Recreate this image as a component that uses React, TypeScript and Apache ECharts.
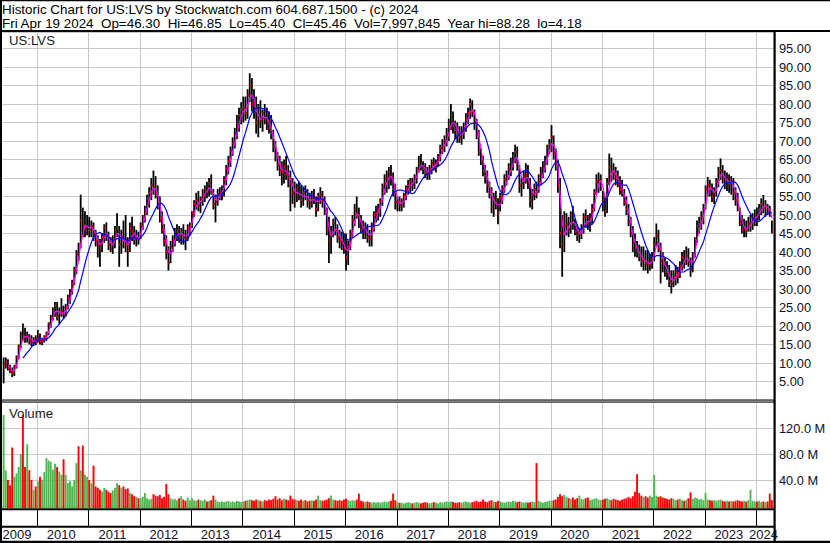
import React, { useEffect, useRef } from "react";
import * as echarts from "echarts";

// ---- time base: semi-monthly periods starting May 2009 ----
const START_YEAR = 2009.33;
const PERIODS_PER_YEAR = 24;

// ---- price data (US:LVS), one row per calendar year ----
const closes = [
  9.5, 10.2, 8.8, 7.8, 7.2, 9, 11.5, 14.5, 17.5, 17.2, 17, 17.3, 16, 15.5, 16.2, 15.8,
  17.5, 15.8, 16, 17, 18, 20.5, 22, 24, 25.5, 22.5, 23.5, 24, 23, 25, 27.5, 29, 31.5, 35, 39.5, 38.5, 48.5, 46.5, 47, 47,
  46, 47, 45, 43, 42, 41, 44, 46.5, 44.5, 42, 41, 42.5, 46, 46.5, 42, 44, 43, 42, 40.5, 46.5, 45.5, 43.5, 44, 43.5,
  47, 49.5, 51.5, 54.5, 56, 58, 57.5, 56, 53, 49, 46, 43, 40, 37, 41.5, 43, 45, 45.5, 44, 45.5, 44, 43.5, 46.5, 47,
  50.5, 53, 54, 52.5, 54.5, 55.5, 57, 56.5, 58.5, 56, 53, 53.5, 55.5, 56, 56.5, 59.5, 62.5, 64.5, 67.5, 69.5, 72, 74.5, 77, 78.5,
  79, 77.5, 82.5, 85, 80, 79.5, 75, 77, 75.5, 77.5, 76, 75.5, 73.5, 72, 68.5, 66, 63.5, 62, 61.5, 63, 61, 60, 58.5, 56,
  55, 57, 55.5, 54, 56, 55, 54, 53, 55, 54.5, 51.5, 55, 55.5, 54, 51, 46, 43, 44.5, 48, 46, 44, 43, 42.5, 41,
  38.5, 41.5, 45, 48.5, 51.5, 50.5, 48, 46, 45.5, 46.5, 44, 43.5, 46.5, 50, 50.5, 51.5, 53.5, 57.5, 58.5, 60, 61.5, 60, 57, 53.5,
  53.5, 52.5, 53.5, 55, 57, 58, 59, 58.5, 60, 62.5, 64, 63.5, 62.5, 61.5, 61, 62.5, 64, 63, 64, 65.5, 68, 68.5, 70, 71.5,
  74, 77, 74, 73, 72, 71, 72.5, 73.5, 76, 77.5, 80, 78, 75, 72, 67, 65, 62, 60.5, 58, 56, 52, 54.5, 53, 50.5,
  54.5, 57, 59.5, 60, 62.5, 63, 66, 67, 64, 58, 58.5, 60.5, 61, 59, 54, 55.5, 57, 55.8, 59, 61.5, 62.5, 64.5, 68, 69,
  71, 67, 64, 58, 45, 42, 47, 47.5, 46, 50, 48, 45.5, 44.5, 45, 46, 49.5, 48, 47.5, 49, 51.5, 56, 59, 59.5, 59.5,
  54, 51, 58.5, 63, 62, 61, 60, 58.5, 57, 56, 53.5, 51.5, 48, 45, 42, 41, 40, 39, 37.5, 38, 37, 36.5, 37, 38.5,
  42, 44.5, 41, 37.5, 37, 35, 34.5, 32, 31.5, 33.5, 34.5, 33.5, 36, 38.5, 37.5, 39, 37.5, 35.5, 39, 43.5, 47, 47.5, 49.5, 51.5,
  57, 58, 57.5, 55, 56, 59, 61.5, 62, 60, 58.5, 59.5, 58.5, 59, 56, 54, 52, 48, 46, 46.5, 46, 47.5, 48, 49, 50,
  49.5, 51.5, 53, 52, 52.5, 51.5, 50.5, 45.5,
];

const highs = [
  11.5, 11.5, 11, 9.5, 8.8, 9.5, 12, 15, 18.5, 20.7, 19.5, 18.5, 17.8, 17.5, 17, 17.5,
  18.9, 18, 16.8, 17.5, 18.5, 21, 23, 25, 26.5, 26.5, 25, 27.5, 25.5, 26, 28.5, 30, 32.5, 36, 40.5, 42.5, 55.5, 52, 51, 50,
  49.5, 48.5, 48, 46, 44.5, 43.5, 45, 47.5, 48, 45.5, 44, 44.5, 47, 50.5, 47, 46, 48.5, 50, 44, 48, 49.5, 47, 46, 45.5,
  48, 50, 52.5, 55.5, 57.5, 60, 62, 60.5, 58, 55, 51, 47.5, 44.5, 41.5, 43, 44.5, 46.5, 47.5, 47, 46.5, 47.5, 46, 47.5, 48,
  51, 54, 56, 56.5, 55, 57, 58, 59, 60, 61, 57, 55.5, 57, 57.5, 58, 60.5, 63.5, 66, 68.5, 71, 73.5, 77, 79, 80.5,
  82, 82, 84, 88.3, 87, 84, 82, 80, 81, 78.5, 80, 79, 78, 77, 73, 70, 67, 66, 64.5, 65, 66, 63.5, 62, 60,
  59, 58.5, 59, 58, 57.5, 58, 57, 56, 56.5, 57, 55, 56, 57.5, 56.5, 55, 52, 49.5, 47, 49, 49.5, 47.5, 46, 45.5, 45,
  45, 43, 46, 50, 53, 55, 52, 50, 48.5, 48, 47.5, 46, 48, 51, 52.5, 53, 54.5, 58.5, 61, 62, 63, 63.5, 61.5, 58.5,
  55, 55, 54.5, 56, 58, 59.5, 60, 60, 61, 63, 66, 66.5, 64.5, 64, 63, 63.5, 65, 65.5, 65, 66.5, 69, 70.5, 71.5, 73.5,
  76, 80, 78, 75.5, 75, 74, 74, 75, 77.5, 79, 81.5, 81, 78.5, 76, 73, 68, 66, 63.5, 62, 59, 57.5, 56, 56.5, 54.5,
  56, 58, 61, 62, 64, 65.5, 67, 69, 68.5, 63.5, 60, 62, 64, 63.5, 60, 57, 58.5, 59, 61, 63, 64.5, 66, 69, 70.5,
  74.3, 71.5, 68, 65, 60, 50, 51, 50.5, 49.5, 51, 52.5, 49, 47.5, 46.5, 47.5, 50.5, 51.5, 50, 50.5, 53, 57, 61, 61.5, 61,
  56.5, 55, 60, 66.6, 65.5, 64, 63, 62, 60.5, 59.5, 57, 55, 53, 49.5, 47, 45, 43, 42, 41.5, 41.5, 40.5, 40.5, 39.5, 40,
  44, 47.7, 46, 42.5, 40, 38.5, 37.5, 36.5, 35, 35, 36.5, 36, 37.5, 40, 40.5, 41.5, 41, 38.5, 40, 44, 48.5, 49.5, 51, 53,
  58, 60.3, 59.5, 58.5, 57.5, 60, 63, 65.3, 63.5, 62, 61.5, 61, 60.5, 60, 57.5, 56, 52, 50, 49, 48.5, 49.5, 50, 50.5, 51.5,
  52, 53, 54.5, 55.4, 54, 53, 52.5, 48.5,
];

const lows = [
  4.5, 8.5, 8, 7.2, 6.2, 6.5, 8.5, 11, 14, 16, 15.5, 15.5, 15, 14.5, 14.6, 14.8,
  15.5, 15, 14.8, 15.5, 16, 17.5, 19.5, 21.5, 22.5, 21.5, 20.5, 22.5, 22, 22.5, 24.5, 26, 28.5, 31, 34, 37.5, 41, 44, 44, 44.5,
  44, 44, 43, 41.5, 38.5, 36, 40, 42.5, 43, 40.5, 40, 39.5, 41, 44, 36, 39.5, 41, 40, 36, 40, 43, 42, 41.5, 42,
  43.5, 46, 48, 50, 52, 54, 55.5, 54.5, 51.5, 48, 45, 41.5, 38, 35, 37, 40, 41.5, 43, 42.5, 42, 42, 40.5, 43, 44.5,
  46.5, 49.5, 51.5, 51, 50.5, 52.5, 53.5, 54.5, 55, 55.5, 51.5, 48, 52.5, 54, 54, 55, 58, 61, 63, 66, 68, 70.5, 72.5, 74.5,
  75, 75.5, 76, 80.5, 78, 76, 72, 71, 73.5, 72.5, 74.5, 73, 72, 70.5, 67, 64.5, 62, 60.5, 58, 58.5, 59.5, 57.5, 51, 53,
  52, 53.5, 54, 52, 52.5, 54, 52, 51.5, 52, 53, 49.5, 51, 53, 52, 50, 44.5, 37, 39.5, 44, 44.5, 42.5, 41, 40.5, 39.5,
  35, 36.5, 40.5, 44, 47, 49, 46.5, 45, 43.5, 43.5, 42.5, 41.5, 41.5, 45.5, 48, 48.5, 49.5, 52.5, 55.5, 56, 57, 58, 55, 51.5,
  51, 51, 51, 52, 54, 55.5, 56, 56.5, 57, 58.5, 61.5, 62, 61, 60, 59.5, 59.5, 61, 62, 61.5, 63, 64.5, 66.5, 67, 68.5,
  70, 73, 72, 70.5, 69.5, 69.5, 69, 70.5, 72.5, 74.5, 76, 76.5, 73, 70.5, 66, 63.5, 60.5, 58.5, 56, 54.5, 50.5, 49.5, 51.5, 47.5,
  51, 53, 56, 58, 59.5, 60.5, 62, 64, 62, 56, 55, 57, 58.5, 57, 52, 51.5, 54, 54.5, 56, 58, 60, 61.5, 63.5, 66.5,
  67, 65, 62, 56, 41, 33.3, 40, 44.5, 44, 45, 46, 44.5, 43, 42.5, 43.5, 45, 46.5, 46, 45.5, 47.5, 51, 55.5, 56, 56.5,
  51, 49.5, 50.5, 58, 59, 59.5, 58, 57.5, 55.5, 55, 52.5, 50, 47, 44, 40, 38.7, 38.5, 37.5, 36, 35, 35, 34.2, 35, 35.5,
  37.5, 41.5, 40, 31.5, 34.5, 33.3, 32.5, 30.5, 28.8, 30.5, 31, 31.5, 33, 35, 35.5, 36.5, 36, 33.3, 34.5, 38.5, 42.5, 45, 46, 47.5,
  51.5, 55, 55, 53.5, 53, 55, 57.5, 59.5, 58.5, 57, 56.5, 56, 55.5, 54, 52.5, 51, 47, 45, 44, 44, 45.5, 45.5, 46, 47,
  47, 48.5, 50, 50.5, 49.5, 50, 49.5, 45,
];

// volume in millions of shares
const volumes = [
  140, 55, 40, 32, 90, 45, 50, 60, 80, 140, 60, 95, 55, 40, 25, 30,
  38, 45, 40, 52, 74, 70, 68, 56, 65, 60, 53, 48, 72, 48, 35, 38, 30, 40, 66, 92, 55, 93, 48, 45,
  40, 35, 62, 30, 28, 25, 22, 28, 25, 22, 20, 24, 28, 35, 32, 28, 30, 26, 27, 20, 18, 15, 14, 12,
  12, 14, 20, 12, 10, 11, 18, 16, 15, 17, 12, 14, 34, 18, 12, 10, 11, 9, 12, 15, 10, 8, 13, 9,
  12, 9, 8, 10, 9, 8, 10, 7, 8, 9, 16, 10, 7, 6, 7, 6, 7, 8, 6, 7, 6, 8, 7, 6,
  7, 8, 9, 10, 9, 8, 10, 9, 8, 7, 9, 8, 10, 9, 11, 15, 10, 12, 9, 11, 10, 9, 16, 11,
  10, 9, 8, 10, 8, 9, 7, 8, 9, 8, 10, 16, 9, 8, 9, 10, 12, 16, 10, 9, 8, 9, 8, 10,
  11, 9, 8, 9, 8, 10, 19, 8, 7, 6, 7, 6, 5, 6, 5, 6, 5, 6, 7, 6, 7, 8, 19, 9,
  6, 5, 5, 4, 5, 6, 5, 4, 5, 6, 5, 4, 5, 6, 5, 4, 5, 6, 5, 4, 6, 5, 6, 7,
  6, 7, 6, 5, 5, 6, 5, 6, 7, 6, 5, 6, 7, 8, 6, 7, 10, 7, 6, 8, 9, 7, 6, 8,
  7, 6, 5, 6, 7, 6, 8, 7, 6, 7, 6, 5, 6, 5, 6, 7, 6, 66, 8, 6, 5, 6, 7, 8,
  8, 9, 10, 14, 18, 15, 17, 14, 12, 11, 13, 10, 12, 16, 11, 10, 12, 13, 9, 10, 11, 12, 10, 9,
  10, 11, 12, 10, 9, 11, 10, 9, 8, 10, 11, 12, 14, 12, 15, 22, 49, 20, 16, 14, 15, 13, 16, 14,
  48, 16, 14, 15, 13, 12, 11, 10, 12, 11, 9, 10, 11, 9, 8, 10, 12, 21, 11, 13, 12, 10, 11, 9,
  20, 10, 9, 8, 9, 8, 9, 10, 8, 7, 8, 7, 8, 7, 8, 9, 8, 7, 8, 7, 9, 25, 8, 7,
  7, 8, 6, 7, 6, 7, 19, 9,
];

const yearLabels = ["2009", "2010", "2011", "2012", "2013", "2014", "2015", "2016", "2017", "2018", "2019", "2020", "2021", "2022", "2023", "2024"];

const PRICE_INTERVAL = 5;
const VOLUME_INTERVAL = 40;
const SHORT_MA = 3;
const LONG_MA = 10;

const HEADER_1 = "Historic Chart for US:LVS by Stockwatch.com 604.687.1500 - (c) 2024";
const HEADER_2 =
  "Fri Apr 19 2024\u00a0 Op=46.30\u00a0 Hi=46.85\u00a0 Lo=45.40\u00a0 Cl=45.46\u00a0 Vol=7,997,845\u00a0 Year hi=88.28\u00a0 lo=4.18";

const FONT = "'Liberation Sans', Arial, sans-serif";

const periodTime = (i: number) => START_YEAR + (i + 0.5) / PERIODS_PER_YEAR;

function movingAverage(values: number[], n: number) {
  const out: number[][] = [];
  for (let i = n - 1; i < values.length; i++) {
    let s = 0;
    for (let k = i - n + 1; k <= i; k++) s += values[k];
    out.push([periodTime(i), s / n]);
  }
  return out;
}

export default function App() {
  const ref = useRef<HTMLDivElement>(null);

  useEffect(() => {
    document.body.style.margin = "0";
    const chart = echarts.init(ref.current!, null, { renderer: "svg" });

    const PLOT_RIGHT = 774;
    const PX_PER_YEAR = 51.36;
    const X_MAX = 2024.35;
    const X_MIN = X_MAX - PLOT_RIGHT / PX_PER_YEAR;

    const ohlc = closes.map((c, i) => [periodTime(i), highs[i], lows[i], c]);
    const vol = volumes.map((v, i) => ({
      value: [periodTime(i), v],
      itemStyle: { color: i === 0 || closes[i] >= closes[i - 1] ? "#4db84d" : "#ff0000" },
    }));
    const yearSegs = yearLabels.map((y) => [Math.max(Number(y), X_MIN), Math.min(Number(y) + 1, X_MAX)]);
    const yearBounds = yearLabels.slice(1).map((y) => [Number(y)]);

    const xAxisFor = (gridIndex: number) => ({
      type: "value",
      gridIndex,
      min: X_MIN,
      max: X_MAX,
      axisLine: { show: false },
      axisTick: { show: false },
      axisLabel: { show: false },
      splitLine: { show: false },
    });

    const yearLines = (gridIndex: number, color: string) => ({
      type: "custom",
      xAxisIndex: gridIndex,
      yAxisIndex: gridIndex,
      data: yearBounds,
      encode: { x: 0 },
      z: 0,
      silent: true,
      renderItem: (params: any, api: any) => {
        const p = api.coord([api.value(0), 0]);
        const cs = params.coordSys;
        const x = Math.round(p[0]) + 0.5;
        return {
          type: "line",
          shape: { x1: x, y1: cs.y, x2: x, y2: cs.y + cs.height },
          style: { stroke: color, lineWidth: 1 },
        };
      },
    });

    const labelStyle = { color: "#101028", fontSize: 12.8, fontFamily: FONT, margin: 5 };

    const option: any = {
      animation: false,
      backgroundColor: "#ffffff",
      grid: [
        { left: 0, width: PLOT_RIGHT, top: 32, height: 368 },
        { left: 0, width: PLOT_RIGHT, top: 402, height: 104 },
        { left: 0, width: PLOT_RIGHT, top: 510, height: 16 },
        { left: 0, width: PLOT_RIGHT, top: 528, height: 13 },
      ],
      xAxis: [xAxisFor(0), xAxisFor(1), xAxisFor(2), xAxisFor(3)],
      yAxis: [
        {
          type: "value",
          gridIndex: 0,
          position: "right",
          min: 0,
          max: 99.46,
          interval: PRICE_INTERVAL,
          axisLine: { show: false },
          axisTick: { show: false },
          axisLabel: {
            ...labelStyle,
            formatter: (v: number) => (v <= 0 || v > 96 ? "" : v.toFixed(2)),
          },
          splitLine: { show: true, lineStyle: { color: "#c8c8c8", width: 1 } },
        },
        {
          type: "value",
          gridIndex: 1,
          position: "right",
          min: 0,
          max: 160,
          interval: VOLUME_INTERVAL,
          axisLine: { show: false },
          axisTick: { show: false },
          axisLabel: {
            ...labelStyle,
            formatter: (v: number) => (v <= 0 || v >= 160 ? "" : v.toFixed(1) + " M"),
          },
          splitLine: { show: true, lineStyle: { color: "#c8c8c8", width: 1 } },
        },
        { type: "value", gridIndex: 2, min: 0, max: 1, show: false },
        { type: "value", gridIndex: 3, min: 0, max: 1, show: false },
      ],
      series: [
        yearLines(0, "#c8c8c8"),
        yearLines(1, "#c8c8c8"),
        yearLines(2, "#000000"),
        {
          type: "custom",
          name: "price",
          xAxisIndex: 0,
          yAxisIndex: 0,
          data: ohlc,
          encode: { x: 0, y: [1, 2, 3] },
          z: 2,
          renderItem: (params: any, api: any) => {
            const t = api.value(0);
            const top = api.coord([t, api.value(1)]);
            const bot = api.coord([t, api.value(2)]);
            const cl = api.coord([t, api.value(3)]);
            return {
              type: "group",
              children: [
                {
                  type: "rect",
                  shape: { x: top[0] - 0.9, y: top[1], width: 1.8, height: Math.max(bot[1] - top[1], 1) },
                  style: { fill: "#000000" },
                },
                {
                  type: "rect",
                  shape: { x: cl[0], y: cl[1] - 1.2, width: 1.4, height: 2.4 },
                  style: { fill: "#ff0000" },
                },
              ],
            };
          },
        },
        {
          type: "line",
          name: "short MA",
          xAxisIndex: 0,
          yAxisIndex: 0,
          data: movingAverage(closes, SHORT_MA),
          symbol: "none",
          z: 3,
          lineStyle: { color: "#ff00ff", width: 1.2 },
          itemStyle: { color: "#ff00ff" },
        },
        {
          type: "line",
          name: "long MA",
          xAxisIndex: 0,
          yAxisIndex: 0,
          data: movingAverage(closes, LONG_MA),
          symbol: "none",
          z: 4,
          lineStyle: { color: "#0000ff", width: 1.2 },
          itemStyle: { color: "#0000ff" },
        },
        {
          type: "custom",
          name: "volume",
          xAxisIndex: 1,
          yAxisIndex: 1,
          data: vol,
          encode: { x: 0, y: 1 },
          z: 2,
          renderItem: (params: any, api: any) => {
            const t = api.value(0);
            const base = api.coord([t, 0]);
            const top = api.coord([t, api.value(1)]);
            return {
              type: "rect",
              shape: { x: base[0] - 0.95, y: top[1], width: 1.9, height: base[1] - top[1] + 2 },
              style: { fill: api.visual("color") },
            };
          },
        },
        {
          type: "custom",
          name: "years",
          xAxisIndex: 3,
          yAxisIndex: 3,
          data: yearSegs,
          encode: { x: [0, 1] },
          z: 5,
          renderItem: (params: any, api: any) => {
            const a = api.coord([api.value(0), 0.5]);
            const b = api.coord([api.value(1), 0.5]);
            return {
              type: "text",
              x: (a[0] + b[0]) / 2 - 1.5,
              y: a[1],
              style: {
                text: yearLabels[params.dataIndex],
                fill: "#101028",
                fontSize: 13,
                fontFamily: FONT,
                align: "center",
                verticalAlign: "middle",
              },
            };
          },
        },
      ],
      graphic: [
        { type: "rect", shape: { x: 0, y: 0, width: 830, height: 1.3 }, style: { fill: "#000" }, z: 50 },
        { type: "rect", shape: { x: 0, y: 0, width: 2, height: 543 }, style: { fill: "#000" }, z: 50 },
        { type: "rect", shape: { x: 0, y: 30, width: 830, height: 2 }, style: { fill: "#000" }, z: 50 },
        { type: "rect", shape: { x: 0, y: 399.5, width: 775, height: 1 }, style: { fill: "#000" }, z: 50 },
        { type: "rect", shape: { x: 0, y: 401.5, width: 775, height: 1 }, style: { fill: "#000" }, z: 50 },
        { type: "rect", shape: { x: 0, y: 508.3, width: 775, height: 2 }, style: { fill: "#000" }, z: 50 },
        { type: "rect", shape: { x: 0, y: 525.8, width: 775, height: 2 }, style: { fill: "#000" }, z: 50 },
        { type: "rect", shape: { x: 0, y: 540.8, width: 830, height: 2.2 }, style: { fill: "#000" }, z: 50 },
        { type: "rect", shape: { x: 773.5, y: 31, width: 2.2, height: 512 }, style: { fill: "#000" }, z: 50 },
        {
          type: "text", x: 2, y: 9.4, z: 60,
          style: { text: HEADER_1, fill: "#000", fontSize: 13.4, fontFamily: FONT, verticalAlign: "middle" },
        },
        {
          type: "text", x: 2, y: 23.4, z: 60,
          style: { text: HEADER_2, fill: "#000", fontSize: 13.4, fontFamily: FONT, verticalAlign: "middle" },
        },
        {
          type: "text", x: 9, y: 40.6, z: 60,
          style: { text: "US:LVS", fill: "#1a1a1a", fontSize: 13.2, fontFamily: FONT, verticalAlign: "middle" },
        },
        {
          type: "text", x: 9, y: 413.8, z: 60,
          style: { text: "Volume", fill: "#1a1a1a", fontSize: 13.2, fontFamily: FONT, verticalAlign: "middle" },
        },
      ],
    };

    chart.setOption(option);
    return () => chart.dispose();
  }, []);

  return (
    <div
      ref={ref}
      style={{ position: "absolute", left: 0, top: 0, width: 830, height: 543, background: "#fff" }}
    />
  );
}
